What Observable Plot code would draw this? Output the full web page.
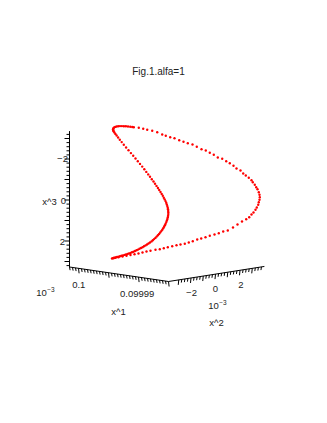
<!DOCTYPE html>
<html>
<head>
<meta charset="utf-8">
<script src="https://cdn.jsdelivr.net/npm/d3@7"></script>
<script src="https://cdn.jsdelivr.net/npm/@observablehq/plot@0.6"></script>
<style>html,body{margin:0;padding:0;background:#fff}svg{display:block}</style>
</head>
<body>
<div id="chart"></div>
<script>
// Curve positions (projected 3D trajectory)
const curveH = [111.5,112.5,113.5,115,116.5,118,119.5,121,122.5,124,125.5,127,128.5,130,131.5,133,134.5,136,137.5,139,140.5,142,143.5,145,146.5,148,149.5,151,152.3,153.6,154.9,156.2,157.4,158.6,159.7,160.8,161.8,162.7,163.6,164.4,165.1,165.8,166.4,166.9,167.3,167.6,167.8,167.8,167.7,167.5,167.2,166.8,166.3,165.7,165,164.2,163.3,162.3,161.2,160,158.7,157.4,156,154.5,153,151.3,149.5,147.7,145.8,143.8,141.7,139.5,137.3,135,132.7,130.4,128,125.6,123.3,121.2,119.3,117.6,116.1,114.9,113.9,113.1,112.7,112.6,112.9,113.6,114.7,116.1,117.7,119.5,121.4,123.4,125.4,127.5,129.7,131.7,133.3,138.3,142.7,146.7,151.7,156.7,161.7,165.3,169.7,174,178.7,183,187.3,192,196.3,201,205.3,209.3,213.3,217.3,221.7,225.7,229.3,233,236,240,242.7,245.3,248.3,251,252.3,254.3,255.7,257,258.3,259,259.3,259,258.3,257.7,256.3,255,253,251,248.7,245.7,241.5,237,232.5,227.3,222.7,218.3,214,209.3,205,200.7,196.7,192.3,188.3,184.3,180,176,171.7,167.3,163.3,159.3,155,150,146,142,138,134,130,126,122,118,115,113];
const curveV = [258,257.6,257.2,256.9,256.5,256.1,255.7,255.3,254.9,254.4,254,253.5,253,252.4,251.8,251.2,250.5,249.8,249.1,248.3,247.5,246.7,245.8,244.9,244,243,242,240.9,239.8,238.6,237.4,236.1,234.8,233.4,232,230.6,229.2,227.7,226.2,224.7,223.2,221.6,220,218.4,216.8,215.2,213.6,212,210.4,208.8,207.2,205.6,204,202.3,200.6,198.9,197.2,195.3,193.4,191.5,189.5,187.5,185.4,183.2,181,178.7,176.3,173.9,171.4,168.8,166.1,163.4,160.7,158,155.3,152.6,149.8,147,144.2,141.6,139.2,137,135,133.4,132,130.8,129.7,128.7,127.8,127,126.4,126,125.7,125.6,125.6,125.7,125.8,126,126.2,126.5,126.7,127.3,128.3,129.3,130.3,131.7,134,135.3,136.7,137.7,139.7,141.3,142.7,144,146.3,148.7,150,152.3,154.3,157,158.3,160.7,162.7,165.3,168,170,173,175,177.3,179.7,181.7,184.3,186.7,188.7,191.7,194.3,196.7,199.3,201.7,204.3,207,209.3,212,214,216.7,218.7,221,224,227,230,231,232.7,234,235.3,236.7,238,239,240.7,242,243.3,244,244.7,245.7,246.7,247.7,248.7,249.3,250.3,251,252,253,253.7,254.5,255.3,256,256.8,257.3,257.8];

// Axis ticks
const zTicks = d3.range(-16, 17).map(d => d / 5);
const zMajor = [-3, -2, -1, 0, 1, 2, 3];
const xTickSteps = d3.range(0, 34);
const yTickSteps = d3.range(-12, 16).map(d => d / 4);

// Axis end points
const axisH = [69, 69, 168, 263.5];
const axisV = [131, 266.5, 281, 266];

// Labels
const labels = ["x^3", "0", "\u22122", "2", "0.1", "0.09999", "10", "x^1", "\u22122", "0", "2", "10", "x^2"];
const labelH = [49, 63, 62, 62, 78.3, 136.7, 41, 118, 191, 215, 240.3, 213, 216];
const labelV = [201, 200, 158.5, 241, 284, 293.3, 292.7, 311, 292.7, 288.7, 284, 305.5, 322];
const titleText = ["Fig.1.alfa=1"];
const expLabels = ["\u22123", "\u22123"];
const expH = [50.5, 222.5];
const expV = [289.5, 302];

const zPos = z => 199.5 + 20.5 * z;
const xH = i => 69 + (168 - 69) * i / 33;
const xV = i => 266.5 + (281 - 266.5) * i / 33;
const yH = v => 215 + 12.25 * v;
const yV = v => 281 - (281 - 266) * (yH(v) - 168) / (263.5 - 168);

const fig = Plot.plot({
  width: 327,
  height: 423,
  margin: 0,
  x: {domain: [0, 327], range: [0, 327], axis: null},
  y: {domain: [0, 423], range: [0, 423], axis: null},
  style: {background: "#fff", fontFamily: "'Liberation Sans', Arial, sans-serif"},
  marks: [
    Plot.line(axisH.map((h, i) => [h, axisV[i]]), {x: d => d[0], y: d => d[1], stroke: "#000", strokeWidth: 1}),
    Plot.link(zTicks, {
      x1: () => 69,
      x2: z => (Number.isInteger(z) && zMajor.includes(z) ? 64 : 66),
      y1: zPos, y2: zPos, stroke: "#000", strokeWidth: 1
    }),
    Plot.link(xTickSteps, {
      x1: xH, y1: xV,
      x2: i => xH(i) + 0.6,
      y2: i => xV(i) + (i % 10 === 3 ? 5 : 3.2),
      stroke: "#000", strokeWidth: 1
    }),
    Plot.link(yTickSteps.filter(v => yH(v) > 168), {
      x1: yH, y1: yV,
      x2: v => yH(v) - 0.5,
      y2: v => yV(v) + (Number.isInteger(v) ? 5 : 3.2),
      stroke: "#000", strokeWidth: 1
    }),
    Plot.dot(curveH.map((h, i) => [h, curveV[i]]), {x: d => d[0], y: d => d[1], r: 1.2, fill: "#f00", stroke: "none"}),
    Plot.text(titleText, {
      x: () => 158, y: () => 71, text: d => d,
      fontSize: 10, fill: "#222", textAnchor: "middle", lineAnchor: "middle"
    }),
    Plot.text(labels, {
      x: (d, i) => labelH[i], y: (d, i) => labelV[i], text: d => d,
      fontSize: 9.5, fill: "#222", textAnchor: "middle", lineAnchor: "middle"
    }),
    Plot.text(expLabels, {
      x: (d, i) => expH[i], y: (d, i) => expV[i], text: d => d,
      fontSize: 6.5, fill: "#222", textAnchor: "middle", lineAnchor: "middle"
    })
  ]
});
document.getElementById("chart").appendChild(fig);
</script>
</body>
</html>
